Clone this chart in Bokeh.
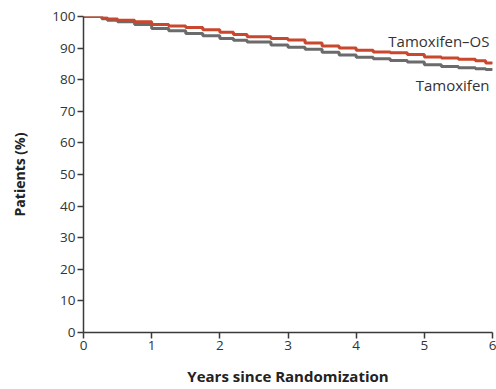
from bokeh.plotting import figure
from bokeh.models import Range1d, FixedTicker, Label
from bokeh.embed import file_html
from bokeh.resources import INLINE

years = [0, 0.27, 0.35, 0.5, 0.75, 1.0, 1.25, 1.5, 1.75, 2.0, 2.2, 2.4, 2.75, 3.0, 3.25, 3.5, 3.75, 4.0, 4.25, 4.5, 4.75, 5.0, 5.25, 5.5, 5.75, 5.9, 6.0]
tam_os = [100, 99.6, 99.2, 98.8, 98.3, 97.5, 97.0, 96.5, 95.8, 95.0, 94.3, 93.6, 93.0, 92.6, 91.6, 90.7, 90.0, 89.3, 88.8, 88.5, 88.0, 87.2, 86.9, 86.5, 86.0, 85.3, 85.0]
tam = [100, 99.3, 98.8, 98.3, 97.5, 96.2, 95.5, 94.6, 93.9, 93.0, 92.5, 91.9, 91.0, 90.3, 89.6, 88.7, 87.8, 87.1, 86.6, 86.1, 85.6, 84.7, 84.2, 83.8, 83.5, 83.2, 83.0]

x_ticks = [0, 1, 2, 3, 4, 5, 6]
y_ticks = [0, 10, 20, 30, 40, 50, 60, 70, 80, 90, 100]

FONT = "Open Sans"
TXT = "#333333"
AX = "#3a3a3a"

p = figure(width=496, height=389, output_backend="svg", toolbar_location=None,
           x_range=Range1d(0, 6), y_range=Range1d(0, 100),
           min_border_left=83, min_border_right=4, min_border_top=16, min_border_bottom=57)
p.outline_line_color = None
p.xgrid.grid_line_color = None
p.ygrid.grid_line_color = None
p.background_fill_color = "white"

p.step(years, tam, mode="after", line_color="#6b6b6b", line_width=3)
p.step(years, tam_os, mode="after", line_color="#c9472d", line_width=3)

for ax in (p.xaxis[0], p.yaxis[0]):
    ax.axis_line_color = AX
    ax.axis_line_width = 1.5
    ax.major_tick_line_color = AX
    ax.major_tick_line_width = 1.5
    ax.major_tick_in = 0
    ax.major_tick_out = 6
    ax.minor_tick_line_color = None
    ax.major_label_text_font = FONT
    ax.major_label_text_font_size = "13.5px"
    ax.major_label_text_color = TXT
    ax.axis_label_text_font = FONT
    ax.axis_label_text_font_style = "bold"
    ax.axis_label_text_color = "#222222"

p.xaxis[0].ticker = FixedTicker(ticks=x_ticks)
p.yaxis[0].ticker = FixedTicker(ticks=y_ticks)
p.xaxis[0].major_label_standoff = 2
p.yaxis[0].major_label_standoff = 2
p.xaxis[0].axis_label = "Years since Randomization"
p.xaxis[0].axis_label_text_font_size = "15px"
p.xaxis[0].axis_label_standoff = 13
p.yaxis[0].axis_label = "Patients (%)"
p.yaxis[0].axis_label_text_font_size = "14px"
p.yaxis[0].axis_label_standoff = 20

p.add_layout(Label(x=6, y=92.4, text="Tamoxifen\u2013OS", text_align="right", text_baseline="middle",
                   text_font=FONT, text_font_size="15px", text_color=TXT, x_offset=-3))
p.add_layout(Label(x=6, y=78.4, text="Tamoxifen", text_align="right", text_baseline="middle",
                   text_font=FONT, text_font_size="15px", text_color=TXT, x_offset=-3))

open("out.html", "w").write(file_html(p, INLINE))
